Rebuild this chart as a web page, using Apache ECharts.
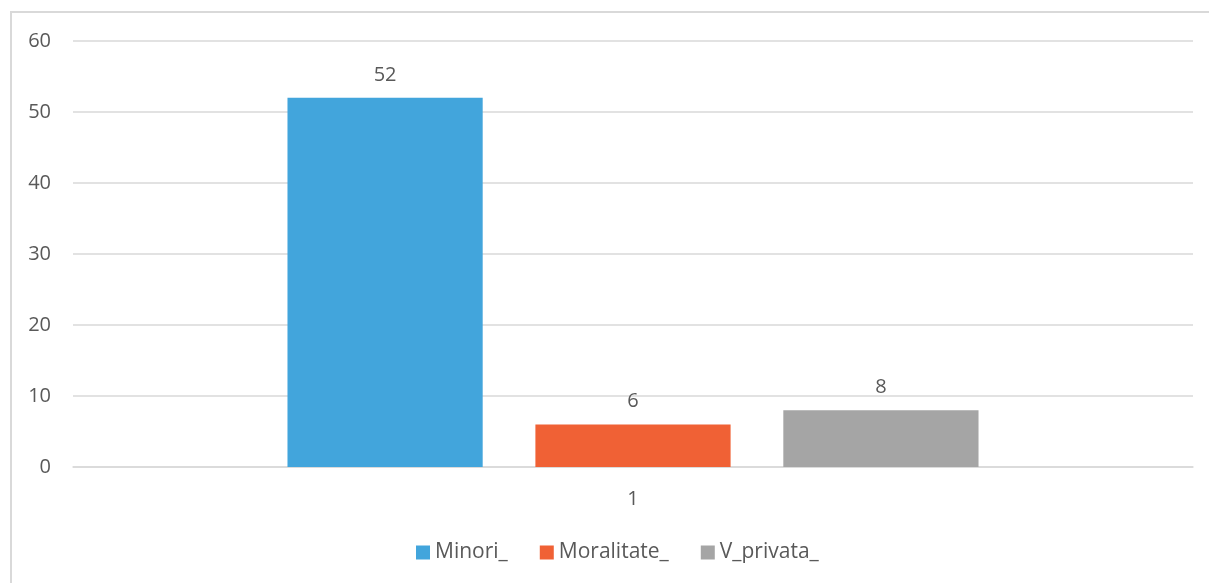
<!DOCTYPE html>
<html>
<head>
<meta charset="utf-8">
<script src="https://cdn.jsdelivr.net/npm/echarts@6/dist/echarts.min.js"></script>
<style>
html,body{margin:0;padding:0;background:#fff;}
#wrap{position:relative;width:1209px;height:583px;overflow:hidden;}
#frame{position:absolute;left:10px;top:11px;width:1300px;height:700px;border-left:2px solid #d9d9d9;border-top:2px solid #d9d9d9;box-sizing:border-box;}
#chart{position:absolute;left:0;top:0;width:1209px;height:583px;}
</style>
</head>
<body>
<div id="wrap"><div id="frame"></div><div id="chart"></div></div>
<script>
const categories = ['1'];
const seriesNames = ['Minori_', 'Moralitate_', 'V_privata_'];
const minoriValues = [52];
const moralitateValues = [6];
const vPrivataValues = [8];
const yTicks = [0, 10, 20, 30, 40, 50, 60];

const colors = ['#42A5DC', '#F06135', '#A5A5A5'];
const font = 'Open Sans, Liberation Sans, sans-serif';
const textColor = '#595959';
const fs = 20;

const chart = echarts.init(document.getElementById('chart'));
const dataSets = [minoriValues, moralitateValues, vPrivataValues];
chart.setOption({
  animation: false,
  color: colors,
  textStyle: {fontFamily: font},
  grid: {left: 73, right: 16, top: 41, bottom: 116, containLabel: false},
  legend: {
    bottom: 15,
    left: 411,
    itemWidth: 14,
    itemHeight: 14,
    itemGap: 32,
    icon: 'rect',
    textStyle: {fontSize: 21, color: textColor, fontFamily: font},
    data: seriesNames
  },
  xAxis: {
    type: 'category',
    data: categories,
    axisLine: {lineStyle: {color: '#d9d9d9', width: 1.5}},
    axisTick: {show: false},
    axisLabel: {fontSize: fs, color: textColor, margin: 22, fontFamily: font}
  },
  yAxis: {
    type: 'value',
    min: yTicks[0],
    max: yTicks[yTicks.length - 1],
    interval: 10,
    axisLine: {show: false},
    axisTick: {show: false},
    axisLabel: {fontSize: fs, color: textColor, margin: 22, fontFamily: font},
    splitLine: {lineStyle: {color: '#d9d9d9', width: 1.5}}
  },
  series: seriesNames.map((name, i) => ({
    name: name,
    type: 'bar',
    data: dataSets[i],
    barGap: '27%',
    barCategoryGap: '38.3%',
    label: {show: true, position: 'top', distance: 13, fontSize: fs, color: textColor, fontFamily: font}
  }))
});
</script>
</body>
</html>
